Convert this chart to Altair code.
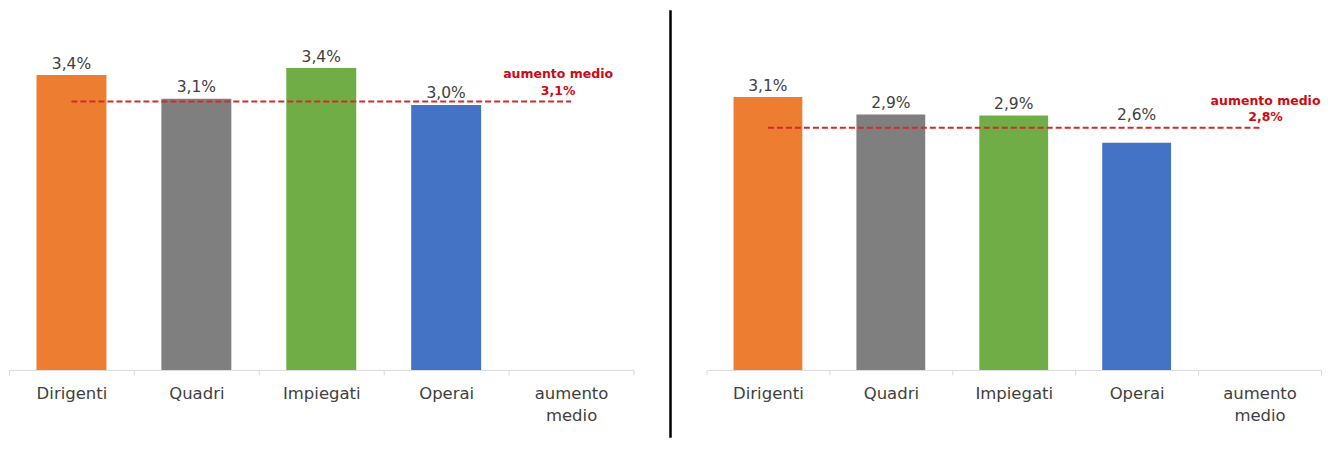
import altair as alt
import pandas as pd

categories = ["Dirigenti", "Quadri", "Impiegati", "Operai", "aumento medio"]
bar_categories = ["Dirigenti", "Quadri", "Impiegati", "Operai"]
bar_colors = ["#ED7D31", "#7F7F7F", "#70AD47", "#4472C4"]

left_values = [3.36, 3.09, 3.44, 3.02]
left_avg = 3.06
right_values = [3.11, 2.91, 2.90, 2.59]
right_avg = 2.76
avg_text = "aumento medio"

FONT = "DejaVu Sans"
RED_LINE = "#d42a2a"
RED_TEXT = "#cc0a14"
H = 360


def panel(values, avg, width, text_dx, with_divider, lifted):
    bars_df = pd.DataFrame({"cat": bar_categories, "v": values})
    avg_df = pd.DataFrame({"cat": [categories[0]], "cat2": [categories[-1]], "v": [avg]})
    lab_df = pd.DataFrame({"cat": [categories[-1]], "v": [avg], "t": [avg_text]})

    xscale = alt.Scale(domain=categories, paddingInner=0, paddingOuter=0)
    yscale = alt.Scale(domain=[0, 4.1])
    xaxis = alt.Axis(
        title=None,
        labelAngle=0,
        labelFont=FONT,
        labelFontSize=16.5,
        labelColor="#404040",
        labelExpr="datum.label == 'aumento medio' ? ['aumento', 'medio'] : datum.label",
        labelLineHeight=22,
        labelBaseline="alphabetic",
        labelPadding=24,
        tickBand="extent",
        tickSize=5,
        tickColor="#d9d9d9",
        domainColor="#d9d9d9",
        grid=False,
    )

    bars = alt.Chart(bars_df).mark_bar(width=alt.RelativeBandSize(0.56)).encode(
        x=alt.X("cat:N", scale=xscale, axis=xaxis, sort=categories),
        y=alt.Y("v:Q", scale=yscale, axis=None),
        color=alt.Color("cat:N", scale=alt.Scale(domain=bar_categories, range=bar_colors), legend=None),
    )
    lifted_expr = "indexof(" + str(lifted) + ", datum.cat) >= 0"

    def value_labels(dy, keep_lifted):
        filt = lifted_expr if keep_lifted else "!(" + lifted_expr + ")"
        return alt.Chart(bars_df).transform_filter(filt).transform_calculate(
            lab="replace(format(datum.v, '.1f'), '.', ',') + '%'"
        ).mark_text(font=FONT, fontSize=15.5, color="#404040", baseline="alphabetic", dy=dy).encode(
            x=alt.X("cat:N", scale=xscale, sort=categories),
            y=alt.Y("v:Q", scale=yscale),
            text="lab:N",
        )

    vals = value_labels(-6.5, False)
    vals_lifted = value_labels(-22.5, True)
    line = alt.Chart(avg_df).mark_rule(color=RED_LINE, strokeWidth=2, strokeDash=[6, 3]).encode(
        x=alt.X("cat:N", scale=xscale, sort=categories),
        x2="cat2",
        y=alt.Y("v:Q", scale=yscale),
    )
    t1 = alt.Chart(lab_df).mark_text(
        font=FONT, fontSize=12.5, fontWeight="bold", color=RED_TEXT, baseline="alphabetic", dy=-23, dx=text_dx
    ).encode(
        x=alt.X("cat:N", scale=xscale, sort=categories),
        y=alt.Y("v:Q", scale=yscale),
        text="t:N",
    )
    t2 = alt.Chart(lab_df).transform_calculate(
        lab="replace(format(datum.v, '.1f'), '.', ',') + '%'"
    ).mark_text(
        font=FONT, fontSize=12.5, fontWeight="bold", color=RED_TEXT, baseline="alphabetic", dy=-6.5, dx=text_dx
    ).encode(
        x=alt.X("cat:N", scale=xscale, sort=categories),
        y=alt.Y("v:Q", scale=yscale),
        text="lab:N",
    )
    layers = [bars, vals, vals_lifted, line, t1, t2]
    if with_divider:
        div = alt.Chart(pd.DataFrame({"a": [0]})).mark_rule(color="black", strokeWidth=2.5).encode(
            x=alt.value(662), y=alt.value(0), y2=alt.value(428)
        )
        layers.append(div)
    return alt.layer(*layers).properties(width=width, height=H)


left = panel(left_values, left_avg, 625, -13, True, [])
right = panel(right_values, right_avg, 615, 6, False, ["Operai"])

chart = alt.hconcat(left, right, spacing=73, bounds="flush").properties(
    padding={"left": 0, "top": 0, "right": 0, "bottom": 0}
).configure(font=FONT).configure_view(stroke=None)

chart.save("out.html", embed_options={"renderer": "svg", "actions": False})
